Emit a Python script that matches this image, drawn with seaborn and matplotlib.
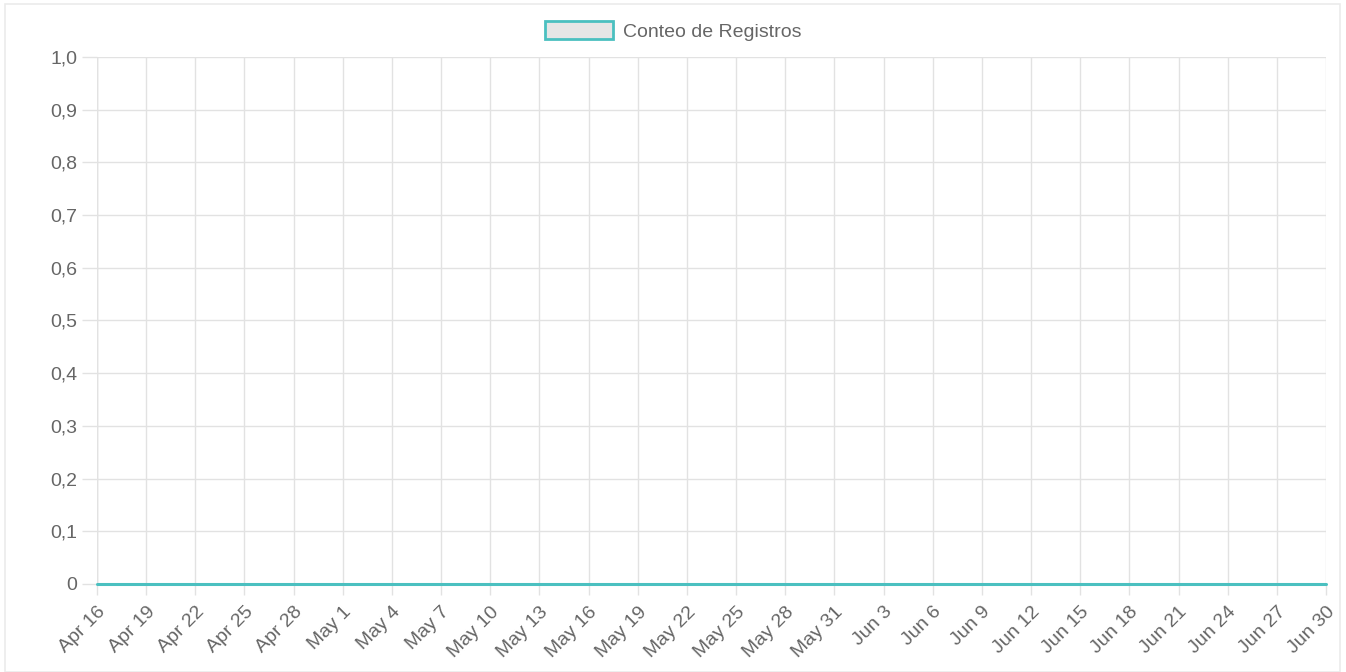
import pandas as pd
import numpy as np
import matplotlib.pyplot as plt
import matplotlib.dates as mdates
from matplotlib.patches import Patch, Rectangle
from matplotlib.ticker import MultipleLocator, FuncFormatter
import seaborn as sns

start_date = "2024-04-16"
end_date = "2024-06-30"
series_label = "Conteo de Registros"
counts = [0, 0, 0, 0, 0, 0, 0, 0, 0, 0, 0, 0, 0, 0, 0, 0, 0, 0, 0, 0,
          0, 0, 0, 0, 0, 0, 0, 0, 0, 0, 0, 0, 0, 0, 0, 0, 0, 0, 0, 0,
          0, 0, 0, 0, 0, 0, 0, 0, 0, 0, 0, 0, 0, 0, 0, 0, 0, 0, 0, 0,
          0, 0, 0, 0, 0, 0, 0, 0, 0, 0, 0, 0, 0, 0, 0, 0]

dates = pd.date_range(start_date, end_date, freq="D")
df = pd.DataFrame({"fecha": dates, "conteo": counts})

teal = "#4bc0c0"
grid = "#e2e2e2"
txt = "#666666"
fs = 14

sns.set_style("white")
plt.rcParams["font.family"] = ["Liberation Sans", "DejaVu Sans"]

fig = plt.figure(figsize=(13.46, 6.72), dpi=100)
ax = fig.add_axes([97 / 1346, 1 - 584 / 672, (1326 - 97) / 1346, (584 - 57) / 672])

sns.lineplot(data=df, x="fecha", y="conteo", color=teal, linewidth=2.2, ax=ax, legend=False, clip_on=False)

ax.set_xlim(dates[0], dates[-1])
ax.set_ylim(0, 1)
ax.yaxis.set_major_locator(MultipleLocator(0.1))
ax.yaxis.set_major_formatter(FuncFormatter(lambda v, p: "0" if abs(v) < 1e-9 else f"{v:.1f}".replace(".", ",")))
ax.set_xticks(dates[::3])
ax.set_xticklabels([d.strftime("%b ") + str(d.day) for d in dates[::3]])

ax.grid(True, color=grid, linewidth=1)
ax.set_axisbelow(True)
for s in ax.spines.values():
    s.set_visible(False)
ax.tick_params(axis="y", left=True, length=11, width=1, color=grid, labelcolor=txt, labelsize=fs, pad=3)
ax.tick_params(axis="x", bottom=True, length=8, width=1, color=grid, labelcolor=txt, labelsize=fs, pad=6)
for lab in ax.get_xticklabels():
    lab.set_rotation(45)
    lab.set_ha("right")
    lab.set_rotation_mode("anchor")
ax.set_xlabel("")
ax.set_ylabel("")
ax.axvline(dates[0], color="#d4d4d4", linewidth=1, zorder=0)

fig.legend(handles=[Patch(facecolor="#e6e6e6", edgecolor=teal, linewidth=2, label=series_label)],
           loc="center", bbox_to_anchor=(0.5, 1 - 31 / 672), frameon=False,
           handlelength=3.5, handleheight=1.0, handletextpad=0.5,
           prop={"size": fs}, labelcolor=txt)

fig.patches.append(Rectangle((5 / 1346, 0), 1335 / 1346, 1 - 4 / 672, transform=fig.transFigure,
                             fill=False, edgecolor="#ebebeb", linewidth=1.2))

fig.savefig("out.png", dpi=100)
